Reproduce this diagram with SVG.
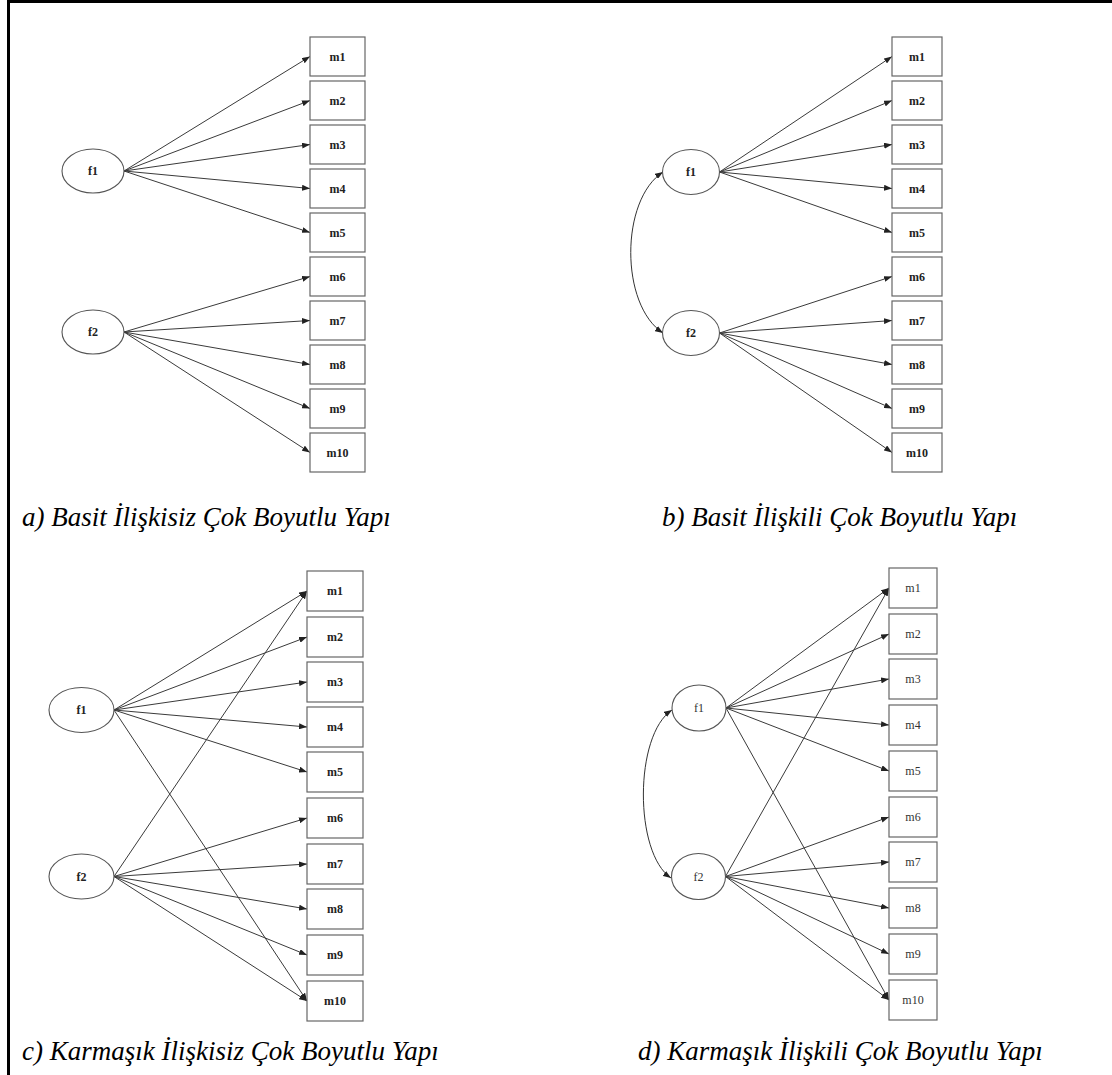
<svg xmlns="http://www.w3.org/2000/svg" width="1112" height="1075" viewBox="0 0 1112 1075">
<defs>
<marker id="ah" viewBox="0 0 10 10" refX="10" refY="5" markerWidth="8" markerHeight="6" markerUnits="userSpaceOnUse" orient="auto-start-reverse" preserveAspectRatio="none">
<path d="M0,0 L10,5 L0,10 z" fill="#222"/>
</marker>
</defs>
<style>
.box{fill:#fff;stroke:#666;stroke-width:1.2}
.ell{fill:#fff;stroke:#555;stroke-width:1.1}
.lbl{font-family:"Liberation Serif","DejaVu Serif",serif;font-size:12px;font-weight:bold;fill:#222;text-anchor:middle;dominant-baseline:central}
.lbld{font-weight:normal;fill:#333}
.edge{stroke:#3a3a3a;stroke-width:1;fill:none;marker-end:url(#ah)}
.cov{stroke:#333;stroke-width:1;fill:none;marker-start:url(#ah);marker-end:url(#ah)}
.cap{font-family:"Liberation Serif","Times New Roman",serif;font-style:italic;font-size:27px;fill:#000}
.frame{stroke:#000;stroke-width:3;fill:none}
</style>
<rect width="1112" height="1075" fill="#fff"/>
<path class="frame" d="M8.5,1075 L8.5,1.5 L1112,1.5"/>

<g id="connectors">
<!-- panel a -->
<line class="edge" x1="124" y1="171" x2="310" y2="56.5"/>
<line class="edge" x1="124" y1="171" x2="310" y2="100.5"/>
<line class="edge" x1="124" y1="171" x2="310" y2="144.5"/>
<line class="edge" x1="124" y1="171" x2="310" y2="188.5"/>
<line class="edge" x1="124" y1="171" x2="310" y2="232.5"/>
<line class="edge" x1="124" y1="332" x2="310" y2="276.5"/>
<line class="edge" x1="124" y1="332" x2="310" y2="320.5"/>
<line class="edge" x1="124" y1="332" x2="310" y2="364.5"/>
<line class="edge" x1="124" y1="332" x2="310" y2="408.5"/>
<line class="edge" x1="124" y1="332" x2="310" y2="452.5"/>
<!-- panel b -->
<line class="edge" x1="719.5" y1="172" x2="892" y2="56.5"/>
<line class="edge" x1="719.5" y1="172" x2="892" y2="100.5"/>
<line class="edge" x1="719.5" y1="172" x2="892" y2="144.5"/>
<line class="edge" x1="719.5" y1="172" x2="892" y2="188.5"/>
<line class="edge" x1="719.5" y1="172" x2="892" y2="232.5"/>
<line class="edge" x1="719.5" y1="333" x2="892" y2="276.5"/>
<line class="edge" x1="719.5" y1="333" x2="892" y2="320.5"/>
<line class="edge" x1="719.5" y1="333" x2="892" y2="364.5"/>
<line class="edge" x1="719.5" y1="333" x2="892" y2="408.5"/>
<line class="edge" x1="719.5" y1="333" x2="892" y2="452.5"/>
<path class="cov" d="M663,172 C620,200 620,305 663,333"/>
<!-- panel c -->
<line class="edge" x1="114" y1="710" x2="307" y2="591"/>
<line class="edge" x1="114" y1="710" x2="307" y2="637"/>
<line class="edge" x1="114" y1="710" x2="307" y2="682"/>
<line class="edge" x1="114" y1="710" x2="307" y2="727"/>
<line class="edge" x1="114" y1="710" x2="307" y2="772"/>
<line class="edge" x1="114" y1="710" x2="307" y2="1001"/>
<line class="edge" x1="114" y1="876.5" x2="307" y2="591"/>
<line class="edge" x1="114" y1="876.5" x2="307" y2="818"/>
<line class="edge" x1="114" y1="876.5" x2="307" y2="864"/>
<line class="edge" x1="114" y1="876.5" x2="307" y2="909"/>
<line class="edge" x1="114" y1="876.5" x2="307" y2="955"/>
<line class="edge" x1="114" y1="876.5" x2="307" y2="1001"/>
<!-- panel d -->
<line class="edge" x1="726" y1="708" x2="889" y2="588"/>
<line class="edge" x1="726" y1="708" x2="889" y2="634"/>
<line class="edge" x1="726" y1="708" x2="889" y2="679"/>
<line class="edge" x1="726" y1="708" x2="889" y2="725"/>
<line class="edge" x1="726" y1="708" x2="889" y2="771"/>
<line class="edge" x1="726" y1="708" x2="889" y2="1000"/>
<line class="edge" x1="725.5" y1="876.5" x2="889" y2="588"/>
<line class="edge" x1="725.5" y1="876.5" x2="889" y2="817"/>
<line class="edge" x1="725.5" y1="876.5" x2="889" y2="862"/>
<line class="edge" x1="725.5" y1="876.5" x2="889" y2="908"/>
<line class="edge" x1="725.5" y1="876.5" x2="889" y2="954"/>
<line class="edge" x1="725.5" y1="876.5" x2="889" y2="1000"/>
<path class="cov" d="M672,710 C634,735 634,853 671,878"/>
</g>

<!-- panel a nodes -->
<g id="a-f1"><ellipse class="ell" cx="93" cy="171" rx="31" ry="22"/><text class="lbl" x="93" y="171">f1</text></g>
<g id="a-f2"><ellipse class="ell" cx="93" cy="332" rx="31" ry="22"/><text class="lbl" x="93" y="332">f2</text></g>
<g id="a-m1"><rect class="box" x="310" y="37" width="55" height="39"/><text class="lbl" x="337.5" y="56.5">m1</text></g>
<g id="a-m2"><rect class="box" x="310" y="81" width="55" height="39"/><text class="lbl" x="337.5" y="100.5">m2</text></g>
<g id="a-m3"><rect class="box" x="310" y="125" width="55" height="39"/><text class="lbl" x="337.5" y="144.5">m3</text></g>
<g id="a-m4"><rect class="box" x="310" y="169" width="55" height="39"/><text class="lbl" x="337.5" y="188.5">m4</text></g>
<g id="a-m5"><rect class="box" x="310" y="213" width="55" height="39"/><text class="lbl" x="337.5" y="232.5">m5</text></g>
<g id="a-m6"><rect class="box" x="310" y="257" width="55" height="39"/><text class="lbl" x="337.5" y="276.5">m6</text></g>
<g id="a-m7"><rect class="box" x="310" y="301" width="55" height="39"/><text class="lbl" x="337.5" y="320.5">m7</text></g>
<g id="a-m8"><rect class="box" x="310" y="345" width="55" height="39"/><text class="lbl" x="337.5" y="364.5">m8</text></g>
<g id="a-m9"><rect class="box" x="310" y="389" width="55" height="39"/><text class="lbl" x="337.5" y="408.5">m9</text></g>
<g id="a-m10"><rect class="box" x="310" y="433" width="55" height="39"/><text class="lbl" x="337.5" y="452.5">m10</text></g>

<!-- panel b nodes -->
<g id="b-f1"><ellipse class="ell" cx="691" cy="172" rx="28.5" ry="22.5"/><text class="lbl" x="691" y="172">f1</text></g>
<g id="b-f2"><ellipse class="ell" cx="691" cy="333" rx="28.5" ry="22.5"/><text class="lbl" x="691" y="333">f2</text></g>
<g id="b-m1"><rect class="box" x="892" y="37" width="50" height="39"/><text class="lbl" x="917" y="56.5">m1</text></g>
<g id="b-m2"><rect class="box" x="892" y="81" width="50" height="39"/><text class="lbl" x="917" y="100.5">m2</text></g>
<g id="b-m3"><rect class="box" x="892" y="125" width="50" height="39"/><text class="lbl" x="917" y="144.5">m3</text></g>
<g id="b-m4"><rect class="box" x="892" y="169" width="50" height="39"/><text class="lbl" x="917" y="188.5">m4</text></g>
<g id="b-m5"><rect class="box" x="892" y="213" width="50" height="39"/><text class="lbl" x="917" y="232.5">m5</text></g>
<g id="b-m6"><rect class="box" x="892" y="257" width="50" height="39"/><text class="lbl" x="917" y="276.5">m6</text></g>
<g id="b-m7"><rect class="box" x="892" y="301" width="50" height="39"/><text class="lbl" x="917" y="320.5">m7</text></g>
<g id="b-m8"><rect class="box" x="892" y="345" width="50" height="39"/><text class="lbl" x="917" y="364.5">m8</text></g>
<g id="b-m9"><rect class="box" x="892" y="389" width="50" height="39"/><text class="lbl" x="917" y="408.5">m9</text></g>
<g id="b-m10"><rect class="box" x="892" y="433" width="50" height="39"/><text class="lbl" x="917" y="452.5">m10</text></g>

<!-- panel c nodes -->
<g id="c-f1"><ellipse class="ell" cx="81.5" cy="710" rx="32.5" ry="22.5"/><text class="lbl" x="81.5" y="710">f1</text></g>
<g id="c-f2"><ellipse class="ell" cx="81.5" cy="876.5" rx="32.5" ry="22.5"/><text class="lbl" x="81.5" y="876.5">f2</text></g>
<g id="c-m1"><rect class="box" x="307" y="571" width="56" height="40"/><text class="lbl" x="335" y="591">m1</text></g>
<g id="c-m2"><rect class="box" x="307" y="617" width="56" height="40"/><text class="lbl" x="335" y="637">m2</text></g>
<g id="c-m3"><rect class="box" x="307" y="662" width="56" height="40"/><text class="lbl" x="335" y="682">m3</text></g>
<g id="c-m4"><rect class="box" x="307" y="707" width="56" height="40"/><text class="lbl" x="335" y="727">m4</text></g>
<g id="c-m5"><rect class="box" x="307" y="752" width="56" height="40"/><text class="lbl" x="335" y="772">m5</text></g>
<g id="c-m6"><rect class="box" x="307" y="798" width="56" height="40"/><text class="lbl" x="335" y="818">m6</text></g>
<g id="c-m7"><rect class="box" x="307" y="844" width="56" height="40"/><text class="lbl" x="335" y="864">m7</text></g>
<g id="c-m8"><rect class="box" x="307" y="889" width="56" height="40"/><text class="lbl" x="335" y="909">m8</text></g>
<g id="c-m9"><rect class="box" x="307" y="935" width="56" height="40"/><text class="lbl" x="335" y="955">m9</text></g>
<g id="c-m10"><rect class="box" x="307" y="981" width="56" height="40"/><text class="lbl" x="335" y="1001">m10</text></g>

<!-- panel d nodes -->
<g id="d-f1"><ellipse class="ell" cx="699" cy="708" rx="27" ry="23"/><text class="lbl lbld" x="699" y="708">f1</text></g>
<g id="d-f2"><ellipse class="ell" cx="698.5" cy="876.5" rx="27" ry="23"/><text class="lbl lbld" x="698.5" y="876.5">f2</text></g>
<g id="d-m1"><rect class="box" x="889" y="568" width="48" height="40"/><text class="lbl lbld" x="913" y="588">m1</text></g>
<g id="d-m2"><rect class="box" x="889" y="614" width="48" height="40"/><text class="lbl lbld" x="913" y="634">m2</text></g>
<g id="d-m3"><rect class="box" x="889" y="659" width="48" height="40"/><text class="lbl lbld" x="913" y="679">m3</text></g>
<g id="d-m4"><rect class="box" x="889" y="705" width="48" height="40"/><text class="lbl lbld" x="913" y="725">m4</text></g>
<g id="d-m5"><rect class="box" x="889" y="751" width="48" height="40"/><text class="lbl lbld" x="913" y="771">m5</text></g>
<g id="d-m6"><rect class="box" x="889" y="797" width="48" height="40"/><text class="lbl lbld" x="913" y="817">m6</text></g>
<g id="d-m7"><rect class="box" x="889" y="842" width="48" height="40"/><text class="lbl lbld" x="913" y="862">m7</text></g>
<g id="d-m8"><rect class="box" x="889" y="888" width="48" height="40"/><text class="lbl lbld" x="913" y="908">m8</text></g>
<g id="d-m9"><rect class="box" x="889" y="934" width="48" height="40"/><text class="lbl lbld" x="913" y="954">m9</text></g>
<g id="d-m10"><rect class="box" x="889" y="980" width="48" height="40"/><text class="lbl lbld" x="913" y="1000">m10</text></g>

<g id="captions">
<text class="cap" x="22" y="526">a) Basit İlişkisiz Çok Boyutlu Yapı</text>
<text class="cap" x="662" y="526">b) Basit İlişkili Çok Boyutlu Yapı</text>
<text class="cap" x="22" y="1060">c) Karmaşık İlişkisiz Çok Boyutlu Yapı</text>
<text class="cap" x="638" y="1060">d) Karmaşık İlişkili Çok Boyutlu Yapı</text>
</g>
</svg>
